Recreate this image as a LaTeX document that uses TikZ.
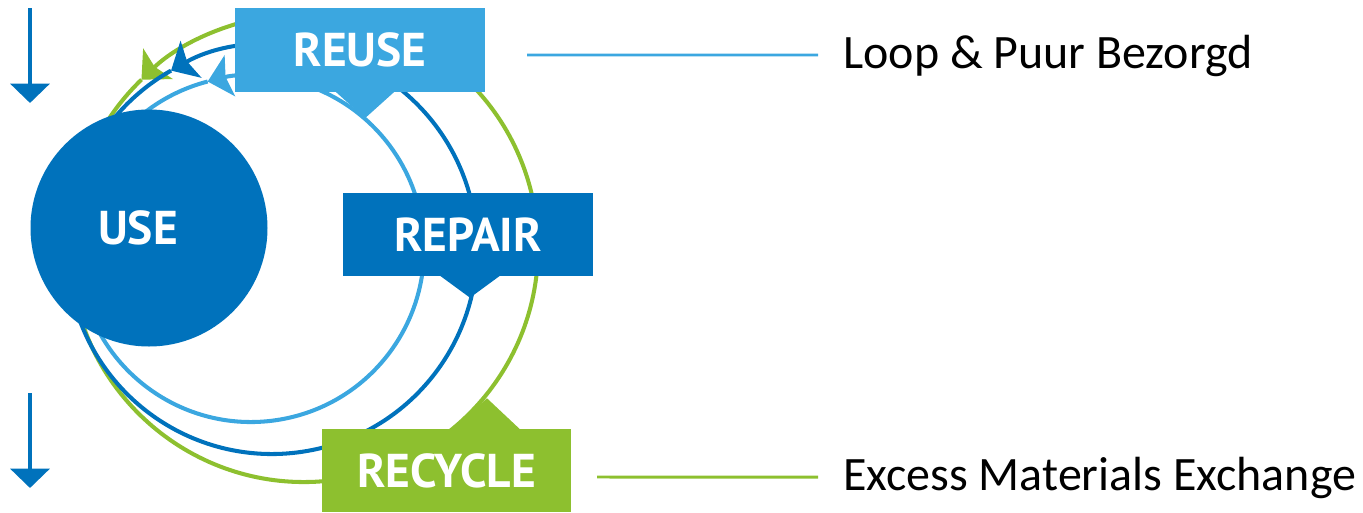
\documentclass[tikz,border=0pt]{standalone}
\usepackage{fontspec}
\setmainfont{Carlito}
\newfontfamily\boxfont{PT Sans}
\usetikzlibrary{arrows.meta,positioning}
\definecolor{reuseblue}{RGB}{59,167,224}
\definecolor{useblue}{RGB}{0,114,188}
\definecolor{recyclegreen}{RGB}{141,192,47}

\tikzset{
  boxlabel/.style={fill=#1, text=white, font=\boxfont\bfseries\fontsize{27}{32}\selectfont,
    minimum width=5cm, minimum height=1.67cm, inner sep=0pt},
  loopline/.style={draw=#1, line width=2.3pt},
  looptip/.style={-{Stealth[length=13pt,width=24pt,inset=2.5pt]}},
  sidelabel/.style={font=\fontsize{27.3}{32}\selectfont, anchor=base west, inner sep=0pt},
  flowarrow/.style={draw=useblue, line width=2.8pt, -{Triangle[width=22pt,length=11pt]}},
}

\begin{document}
\begin{tikzpicture}[x=0.02cm,y=0.02cm]
    \useasboundingbox (0,0) rectangle (1363,512);
    % centres of the three loops
    \coordinate (lightc) at (251,263);
    \coordinate (darkc) at (272,263);
    \coordinate (greenc) at (304,264);
    % loops, both ends hidden under the USE disc
    \draw[loopline=recyclegreen,looptip] (greenc) ++(190:234) arc[start angle=190,end angle=494,radius=234];
    \draw[loopline=recyclegreen] (greenc) ++(494:234) arc[start angle=494,end angle=512,radius=234];
    \draw[loopline=useblue,looptip] (darkc) ++(190:205) arc[start angle=190,end angle=479.5,radius=205];
    \draw[loopline=useblue] (darkc) ++(479.5:205) arc[start angle=479.5,end angle=508,radius=205];
    \draw[loopline=reuseblue,looptip] (lightc) ++(190:173) arc[start angle=190,end angle=464.5,radius=173];
    \draw[loopline=reuseblue] (lightc) ++(464.5:173) arc[start angle=464.5,end angle=505,radius=173];
    % use disc
    \fill[useblue] (149,284) circle[radius=118.5];
    \node[text=white, font=\boxfont\bfseries\fontsize{27}{32}\selectfont] (use) at (138,284) {USE};
    % boxes and their pointers
    \node[boxlabel=reuseblue] (reuse) at (360,462) {REUSE};
    \fill[reuseblue] ([xshift=-0.5cm,yshift=0.5pt]reuse.south) -- ++(30,-27) -- ++(30,27) -- cycle;
    \node[boxlabel=useblue] (repair) at (468,277.5) {REPAIR};
    \fill[useblue] ([xshift=-0.56cm,yshift=0.5pt]repair.south) -- ++(30,-22) -- ++(30,22) -- cycle;
    \node[boxlabel=recyclegreen] (recycle) at (446.5,41.5) {RECYCLE};
    \fill[recyclegreen] ([xshift=0.11cm,yshift=-0.5pt]recycle.north) -- ++(35,31) -- ++(33,-31) -- cycle;
    % partners
    \node[sidelabel] (loop) at (843,444) {Loop \& Puur Bezorgd};
    \node[sidelabel] (ema) at (843,22) {Excess Materials Exchange};
    \coordinate (reusestub) at (527,457);
    \coordinate (recyclestub) at (597,35);
    \draw[reuseblue, line width=1.7pt] (reusestub) -- ([xshift=-0.5cm,yshift=0.26cm]loop.base west);
    \draw[recyclegreen, line width=1.7pt] (recyclestub) -- ([xshift=-0.5cm,yshift=0.26cm]ema.base west);
    % flow in and out
    \coordinate (flowin) at (30,504);
    \coordinate (flowintip) at (30,409);
    \coordinate (flowout) at (30,119);
    \coordinate (flowouttip) at (30,24);
    \draw[flowarrow] (flowin) -- (flowintip);
    \draw[flowarrow] (flowout) -- (flowouttip);
\end{tikzpicture}
\end{document}
